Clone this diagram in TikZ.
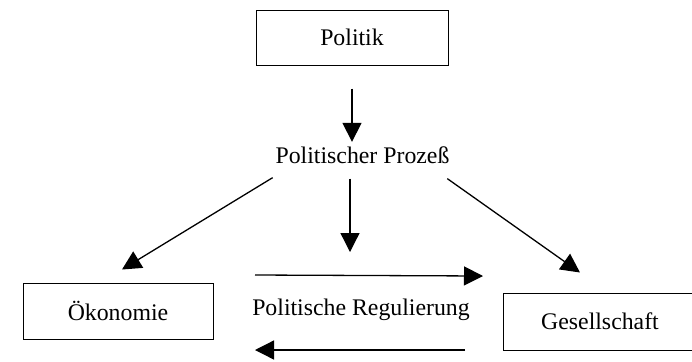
\documentclass[tikz,border=0pt]{standalone}
\usepackage{fontspec}
\setmainfont{Liberation Serif}
\usetikzlibrary{arrows.meta}

\begin{document}
\begin{tikzpicture}[x=0.5pt,y=-0.5pt,
  font=\fontsize{11.9}{14}\selectfont,
  box/.style={draw,line width=0.5pt,inner sep=0pt,minimum height=28pt},
  txt/.style={inner sep=0pt,anchor=base},
  pfeil/.style={line width=0.65pt,-{Triangle[length=9.5pt,width=9.5pt]}}]
  \useasboundingbox (0,0) rectangle (692,361);
  % Kaesten und Beschriftungen
  \node[box,minimum width=96pt,minimum height=27.5pt] (politik) at (352,37.5) {Politik};
  \node[txt] (prozess) at (362.5,163) {Politischer Prozeß};
  \node[box,minimum width=95pt] (oekonomie) at (118,311) {Ökonomie};
  \node[box,minimum width=97pt,minimum height=28.5pt] (gesellschaft) at (600,321.5) {Gesellschaft};
  \node[txt] (regulierung) at (361,315) {Politische Regulierung};
  \coordinate (mitte) at (350,252);
  \coordinate (hin-a) at (255,275);
  \coordinate (hin-b) at (483,276);
  \coordinate (rueck-a) at (465,350);
  \coordinate (rueck-b) at (255,350);
  % Pfeile
  \draw[pfeil] ([yshift=-11.5pt]politik.south) -- ([yshift=2pt]politik.south |- prozess.north);
  \draw[pfeil] ([yshift=-7.5pt]mitte |- prozess.south) -- (mitte);
  \draw[pfeil] ([shift={(-2.5,14)}]prozess.south west) -- ([shift={(4,-13)}]oekonomie.north);
  \draw[pfeil] ([shift={(-2.5,15)}]prozess.south east) -- ([shift={(-20,-20)}]gesellschaft.north);
  \draw[pfeil] (hin-a) -- (hin-b);
  \draw[pfeil] (rueck-a) -- (rueck-b);
\end{tikzpicture}
\end{document}
